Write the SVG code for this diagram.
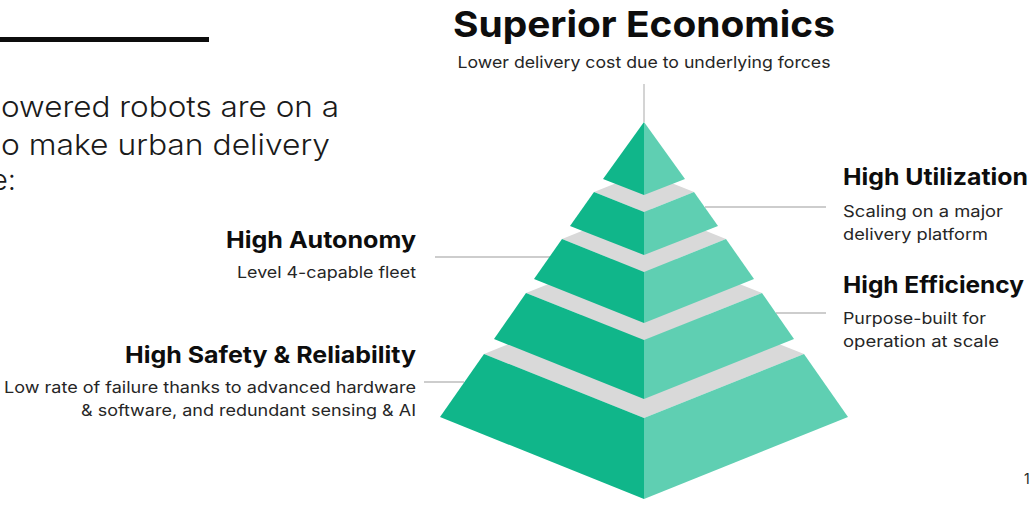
<svg xmlns="http://www.w3.org/2000/svg" width="1030" height="505" viewBox="0 0 1030 505">
<style>
.dk{fill:#10B68A}
.lt{fill:#5FCFB2}
.gr{fill:#D9D9D9}
.ln{stroke:#BDBDBD;stroke-width:1.3;fill:none}
.h{font-family:Inter,"Open Sans","Liberation Sans",sans-serif;font-weight:700;fill:#0d0d0d}
.b{font-family:Inter,"Open Sans","Liberation Sans",sans-serif;font-weight:400;fill:#262626}
.i{font-family:Inter,"Open Sans","Liberation Sans",sans-serif;font-weight:300;fill:#1a1a1a}
</style>
<rect width="1030" height="505" fill="#ffffff"/>
<g id="intro">
<rect x="0" y="37" width="209" height="5" fill="#0d0d0d"/>
<text class="i" x="1" y="117" font-size="29" textLength="338" lengthAdjust="spacingAndGlyphs">owered robots are on a</text>
<text class="i" x="1" y="155" font-size="29" textLength="329" lengthAdjust="spacingAndGlyphs">o make urban delivery</text>
<text class="i" x="-9" y="190" font-size="29">e:</text>
</g>
<g id="connectors">
<line class="ln" x1="644" y1="84" x2="644" y2="122"/>
<line class="ln" x1="705" y1="207" x2="826" y2="207"/>
<line class="ln" x1="776" y1="313" x2="826" y2="313"/>
<line class="ln" x1="435" y1="257" x2="550" y2="257"/>
<line class="ln" x1="424" y1="382" x2="464" y2="382"/>
</g>
<g id="tier5">
<polygon class="gr" points="484,354 644,290 804,354 644,418"/>
<polygon class="dk" points="484,354 644,418 644,499 440,417"/>
<polygon class="lt" points="644,418 804,354 848,417 644,499"/>
</g>
<g id="tier4">
<polygon class="gr" points="526,293 644,246 762,293 644,340"/>
<polygon class="dk" points="526,293 644,340 644,399 494,339"/>
<polygon class="lt" points="644,340 762,293 794,339 644,399"/>
</g>
<g id="tier3">
<polygon class="gr" points="562,239 644,206 726,239 644,272"/>
<polygon class="dk" points="562,239 644,272 644,323 534,279"/>
<polygon class="lt" points="644,272 726,239 754,279 644,323"/>
</g>
<g id="tier2">
<polygon class="gr" points="594,192 644,172 694,192 644,212"/>
<polygon class="dk" points="594,192 644,212 644,255 570,226"/>
<polygon class="lt" points="644,212 694,192 718,226 644,255"/>
</g>
<g id="tier1">
<polygon class="dk" points="644,122 644,195 603,179"/>
<polygon class="lt" points="644,122 685,179 644,195"/>
</g>
<g id="title">
<text class="h" x="644" y="37" font-size="36" text-anchor="middle" textLength="382" lengthAdjust="spacingAndGlyphs">Superior Economics</text>
<text class="b" x="644" y="68" font-size="16.5" text-anchor="middle" textLength="373" lengthAdjust="spacingAndGlyphs">Lower delivery cost due to underlying forces</text>
</g>
<g id="utilization">
<text class="h" x="843" y="185" font-size="23" textLength="185" lengthAdjust="spacingAndGlyphs">High Utilization</text>
<text class="b" x="843" y="217" font-size="16" textLength="160" lengthAdjust="spacingAndGlyphs">Scaling on a major</text>
<text class="b" x="843" y="240" font-size="16" textLength="145" lengthAdjust="spacingAndGlyphs">delivery platform</text>
</g>
<g id="efficiency">
<text class="h" x="843" y="293" font-size="23" textLength="181" lengthAdjust="spacingAndGlyphs">High Efficiency</text>
<text class="b" x="843" y="324" font-size="16" textLength="143" lengthAdjust="spacingAndGlyphs">Purpose-built for</text>
<text class="b" x="843" y="347" font-size="16" textLength="156" lengthAdjust="spacingAndGlyphs">operation at scale</text>
</g>
<g id="autonomy">
<text class="h" x="416" y="248" font-size="23" text-anchor="end" textLength="190" lengthAdjust="spacingAndGlyphs">High Autonomy</text>
<text class="b" x="416" y="278" font-size="16" text-anchor="end" textLength="179" lengthAdjust="spacingAndGlyphs">Level 4-capable fleet</text>
</g>
<g id="safety">
<text class="h" x="416" y="363" font-size="23" text-anchor="end" textLength="291" lengthAdjust="spacingAndGlyphs">High Safety &amp; Reliability</text>
<text class="b" x="416" y="393" font-size="16" text-anchor="end" textLength="412" lengthAdjust="spacingAndGlyphs">Low rate of failure thanks to advanced hardware</text>
<text class="b" x="416" y="416" font-size="16" text-anchor="end" textLength="335" lengthAdjust="spacingAndGlyphs">&amp; software, and redundant sensing &amp; AI</text>
</g>
<text class="b" x="1024" y="484" font-size="14" fill="#555">1</text>
</svg>
